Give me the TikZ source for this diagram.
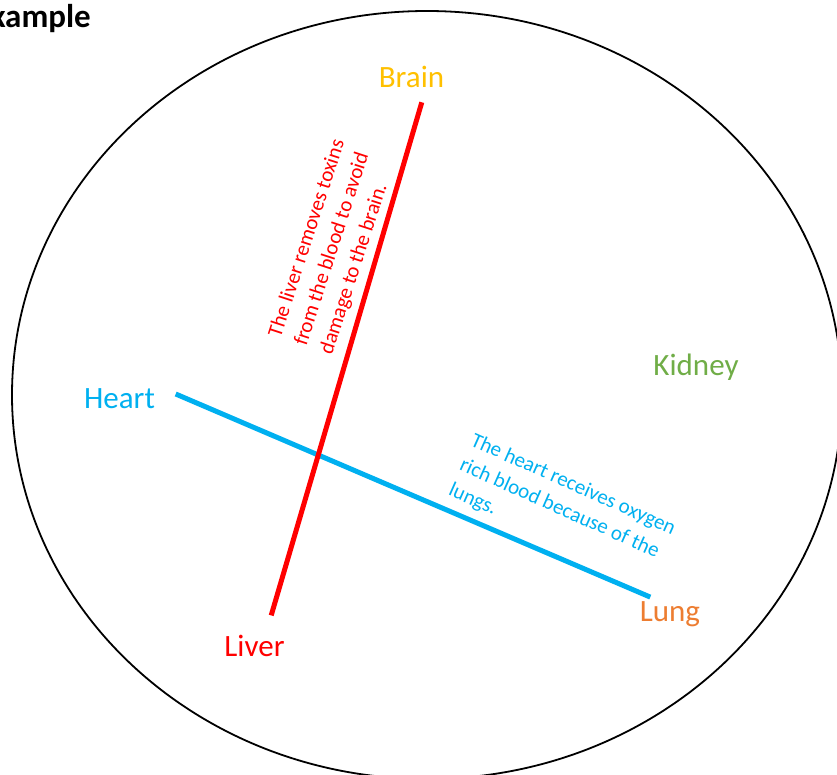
\documentclass[tikz,border=0pt]{standalone}
\usepackage{fontspec}
\setmainfont{Carlito}

\definecolor{brainyellow}{HTML}{FFC000}
\definecolor{heartblue}{HTML}{00B0F0}
\definecolor{kidneygreen}{HTML}{70AD47}
\definecolor{lungorange}{HTML}{ED7D31}
\definecolor{liverred}{HTML}{FF0000}

\begin{document}
\begin{tikzpicture}[x=1pt, y=1pt,
  organ/.style={font=\fontsize{31}{37}\selectfont, anchor=base, inner sep=0pt},
  note/.style={font=\fontsize{21}{27}\selectfont, align=left, inner sep=0pt},
  link/.style={line width=5pt}]
  \useasboundingbox (0,0) rectangle (837,-775);

  % Outline
  \draw[line width=1.8pt] (427,-395) ellipse [x radius=415, y radius=384];

  % Title
  \node[font=\fontsize{33}{40}\selectfont\bfseries, anchor=base east, inner sep=0pt] (title) at (91,-28) {Example};

  % Organs
  \node[organ, brainyellow] (brain) at (411.5,-87.5) {Brain};
  \node[organ, heartblue] (heart) at (119.5,-408) {Heart};
  \node[organ, kidneygreen] (kidney) at (696,-375) {Kidney};
  \node[organ, lungorange] (lung) at (670,-621) {Lung};
  \node[organ, liverred] (liver) at (254.5,-656) {Liver};

  % Line ends
  \coordinate (brain end) at (421.8,-102.3);
  \coordinate (liver end) at (271.2,-615.4);
  \coordinate (heart end) at (175.7,-394);
  \coordinate (lung end) at (650.3,-597.1);

  \draw[link, heartblue] (heart end) -- (lung end);
  \draw[link, liverred] (brain end) -- (liver end);

  % Notes
  \node[note, liverred, rotate=72] (liver note) at (333,-247)
    {The liver removes toxins\\from the blood to avoid\\damage to the brain.};
  \node[note, heartblue, rotate=-24] (heart note) at (562,-510)
    {The heart receives oxygen\\rich blood because of the\\lungs.};
\end{tikzpicture}
\end{document}
